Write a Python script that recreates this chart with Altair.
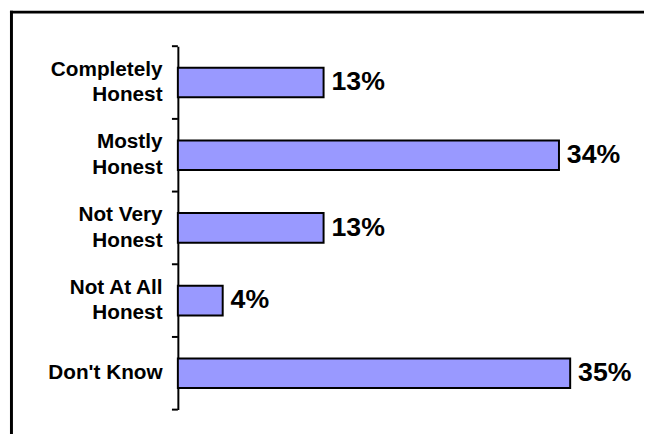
import altair as alt
import pandas as pd

categories = ["Completely Honest", "Mostly Honest", "Not Very Honest", "Not At All Honest", "Don't Know"]
values = [13, 34, 13, 4, 35]

df = pd.DataFrame({"category": categories, "value": values})

FONT = "Liberation Sans"

y_axis = alt.Axis(
    title=None,
    labelExpr="indexof(datum.value, ' Honest') > 0 ? [replace(datum.value, ' Honest', ''), 'Honest'] : datum.value",
    labelAlign="right",
    labelBaseline="middle",
    labelFont=FONT,
    labelFontSize=21,
    labelFontWeight="bold",
    labelColor="black",
    labelLineHeight=26,
    labelPadding=16,
    labelOffset={"condition": {"test": "indexof(datum.value, ' Honest') > 0", "value": -13}, "value": 0},
    ticks=False,
    domainColor="black",
    domainWidth=2,
    grid=False,
)

y_scale = alt.Scale(paddingInner=0, paddingOuter=0)

y_enc = alt.Y("category:N", sort=categories, scale=y_scale, axis=y_axis)

x_enc = alt.X(
    "value:Q",
    scale=alt.Scale(domain=[0, 40], nice=False, zero=True),
    axis=None,
)

frame_data = alt.Data(values=[{"f": 1}])
frame_top = alt.Chart(frame_data).mark_rule(color="black", strokeWidth=3).encode(
    x=alt.value(-170), x2=alt.value(1000), y=alt.value(-34.5)
)
frame_left = alt.Chart(frame_data).mark_rule(color="black", strokeWidth=3).encode(
    x=alt.value(-168.5), y=alt.value(-36), y2=alt.value(1000)
)

bars = alt.Chart(df).mark_bar(
    size=30, fill="#9999FF", stroke="black", strokeWidth=2
).encode(x=x_enc, y=y_enc)

labels = alt.Chart(df).transform_calculate(
    label="datum.value + '%'"
).mark_text(
    align="left", baseline="middle", dx=8, dy=0,
    font=FONT, fontSize=27, fontWeight="bold", color="black"
).encode(x=x_enc, y=y_enc, text="label:N")

# axis ticks at the band boundaries
ticks_top = alt.Chart(df).mark_rule(color="black", strokeWidth=2).encode(
    y=alt.Y("category:N", sort=categories, bandPosition=0),
    x=alt.value(-6), x2=alt.value(0),
)
ticks_bottom = alt.Chart(df).transform_filter(
    alt.datum.category == categories[-1]
).mark_rule(color="black", strokeWidth=2).encode(
    y=alt.Y("category:N", sort=categories, bandPosition=1),
    x=alt.value(-6), x2=alt.value(0),
)

chart = alt.layer(frame_top, frame_left, bars, labels, ticks_top, ticks_bottom).properties(
    width=454,
    height=368,
    autosize=alt.AutoSizeParams(type="none"),
    padding={"left": 172, "top": 36, "right": 18, "bottom": 22},
    background="white",
).configure_view(strokeWidth=0)

chart.save("out.html", embed_options={"renderer": "svg", "actions": False})
